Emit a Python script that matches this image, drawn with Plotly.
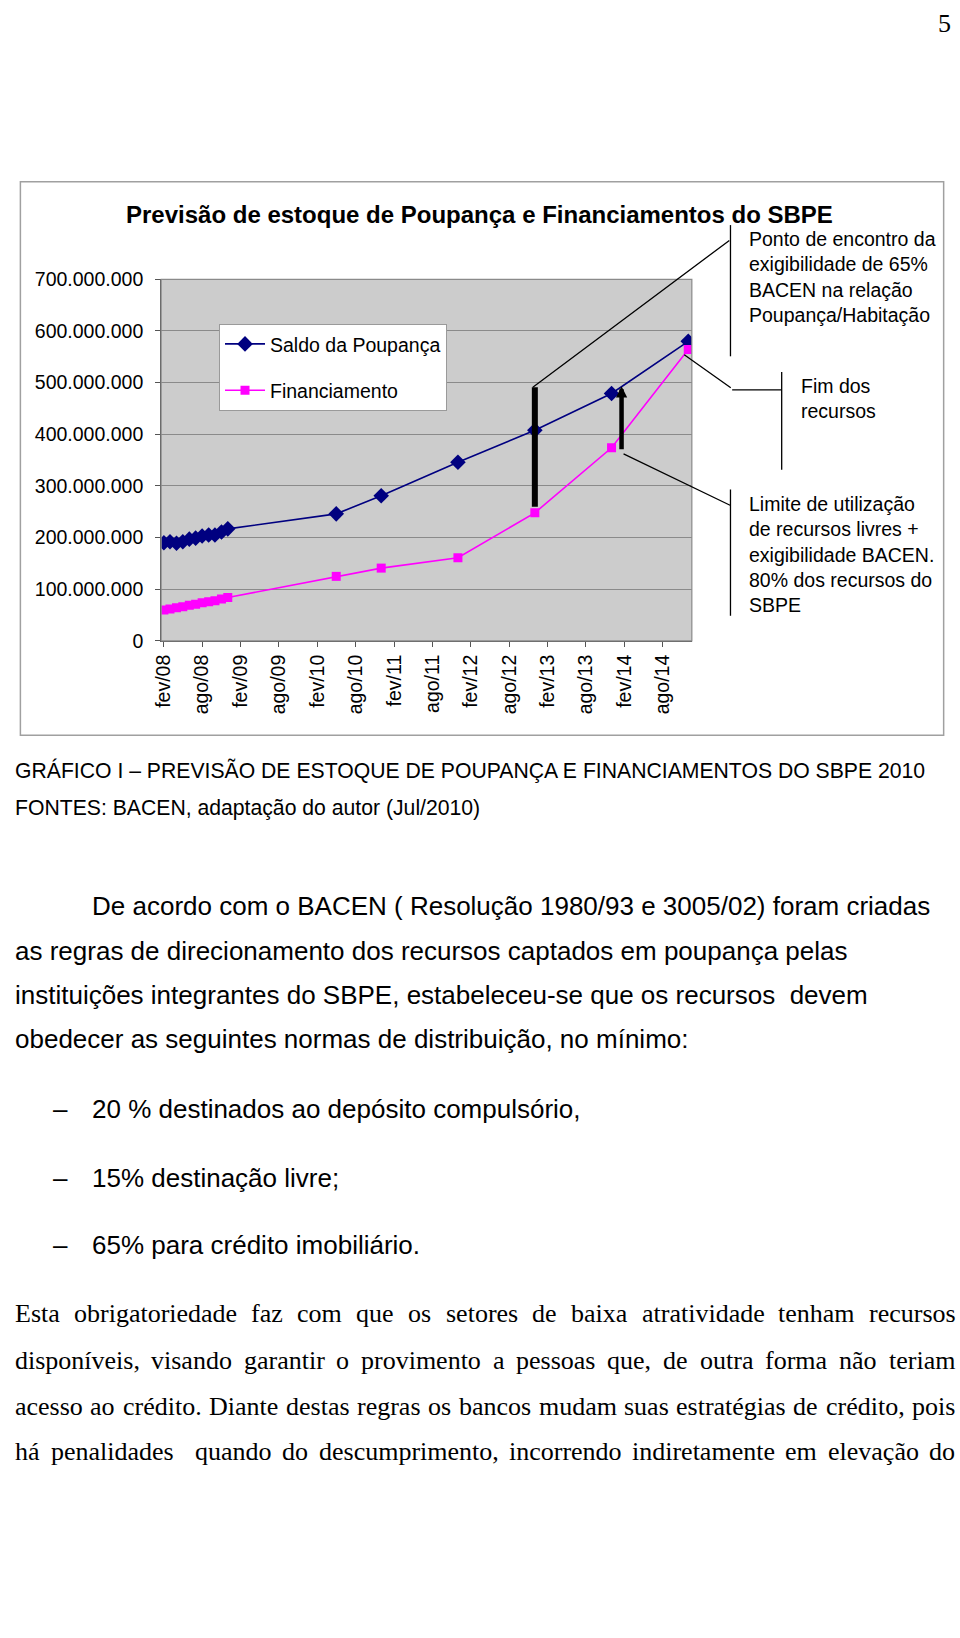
import plotly.graph_objects as go

# ---------------- data ----------------
dates = ["2008-02-01", "2008-03-01", "2008-04-01", "2008-05-01", "2008-06-01",
         "2008-07-01", "2008-08-01", "2008-09-01", "2008-10-01", "2008-11-01",
         "2008-12-01", "2010-05-01", "2010-12-01", "2011-12-01", "2012-12-01",
         "2013-12-01", "2014-12-01"]
saldo_poupanca = [190e6, 192e6, 189e6, 192e6, 197e6, 199e6, 203e6, 205e6, 205e6,
                  211e6, 217e6, 246e6, 281e6, 346e6, 408e6, 479e6, 580e6]
financiamento = [60e6, 62e6, 64e6, 66e6, 69e6, 71e6, 74e6, 76e6, 78e6,
                 81e6, 84e6, 125e6, 141e6, 161e6, 248e6, 374e6, 564e6]

tick_dates = ["2008-02-01", "2008-08-01", "2009-02-01", "2009-08-01", "2010-02-01",
              "2010-08-01", "2011-02-01", "2011-08-01", "2012-02-01", "2012-08-01",
              "2013-02-01", "2013-08-01", "2014-02-01", "2014-08-01"]
tick_labels = ["fev/08", "ago/08", "fev/09", "ago/09", "fev/10", "ago/10", "fev/11",
               "ago/11", "fev/12", "ago/12", "fev/13", "ago/13", "fev/14", "ago/14"]
y_ticks = [0, 100e6, 200e6, 300e6, 400e6, 500e6, 600e6, 700e6]
y_labels = ["0", "100.000.000", "200.000.000", "300.000.000", "400.000.000",
            "500.000.000", "600.000.000", "700.000.000"]

# callout anchors (data space)
bar_date = "2012-12-01"
bar_bottom, bar_top = 260e6, 491e6
arrow_date = "2013-12-01"
arrow_tip, arrow_base = 493e6, 362e6
fim_date = "2014-12-01"
fim_value = 554e6

W, H = 960, 1638
SANS = "Liberation Sans, Arial, sans-serif"
SERIF = "Liberation Serif, Times New Roman, serif"


def fx(x):
    return x / W


def fy(y):
    return 1 - y / H


fig = go.Figure()
fig.add_trace(go.Scatter(
    x=dates, y=saldo_poupanca, name="Saldo da Poupança", mode="lines+markers",
    line=dict(color="#000080", width=1.6),
    marker=dict(symbol="diamond", size=12, color="#000080"),
    legendgroup="a"))
fig.add_trace(go.Scatter(
    x=dates, y=financiamento, name="Financiamento", mode="lines+markers",
    line=dict(color="#FF00FF", width=1.6),
    marker=dict(symbol="square", size=9, color="#FF00FF"),
    legendgroup="b"))

anns = []
shapes = []


def text(t, x, y, size, family=SANS, xanchor="left", yanchor="middle", align="left"):
    anns.append(dict(text=t, x=fx(x), y=fy(y), xref="paper", yref="paper",
                     xanchor=xanchor, yanchor=yanchor, align=align, showarrow=False,
                     font=dict(size=size, family=family, color="black")))


def vline(x, y0, y1, w=1.3):
    shapes.append(dict(type="line", xref="paper", yref="paper", x0=fx(x), x1=fx(x),
                       y0=fy(y0), y1=fy(y1), line=dict(color="black", width=w)))


def hline(x0, x1, y, w=1.3):
    shapes.append(dict(type="line", xref="paper", yref="paper", x0=fx(x0), x1=fx(x1),
                       y0=fy(y), y1=fy(y), line=dict(color="black", width=w)))


# outer chart frame
shapes.append(dict(type="rect", xref="paper", yref="paper", x0=fx(11.5), x1=fx(943.5),
                   y0=fy(734), y1=fy(173), line=dict(color="#a0a0a0", width=1.5)))
# plot-area border
shapes.append(dict(type="rect", xref="x domain", yref="y domain", x0=0, x1=1, y0=0, y1=1,
                   line=dict(color="#8a8a8a", width=1.2), layer="above"))

# title
text("<b>Previsão de estoque de Poupança e Financiamentos do SBPE</b>", 116, 206, 24)

# thick bar
shapes.append(dict(type="line", xref="x", yref="y", x0=bar_date, x1=bar_date,
                   y0=bar_bottom, y1=bar_top, line=dict(color="black", width=6)))


def connector(xd, yd, ax, ay, xshift=0, width=1.3, head=0, size=1):
    anns.append(dict(text=" ", x=xd, y=yd, xref="x", yref="y", ax=ax, ay=ay,
                     axref="pixel", ayref="pixel", showarrow=True, arrowhead=head,
                     arrowsize=size, arrowwidth=width, arrowcolor="black", standoff=0,
                     xshift=xshift, font=dict(size=1)))


connector(bar_date, bar_top, 198, -148, xshift=-2)
connector(arrow_date, arrow_tip, 0, 65, xshift=10, width=4.5, head=2, size=0.5)
connector(arrow_date, arrow_base, 108, 52, xshift=12)
connector(fim_date, fim_value, 48, 34, xshift=-4)

# brackets
vline(728.3, 217, 350)
vline(780, 366, 465)
hline(730, 780, 384)
vline(728.3, 485, 613)

text("Ponto de encontro da<br>exigibilidade de 65%<br>BACEN na relação<br>Poupança/Habitação",
     745, 270, 19.5)
text("Fim dos<br>recursos", 797, 393, 19.5)
text("Limite de utilização<br>de recursos livres +<br>exigibilidade BACEN.<br>80% dos recursos do<br>SBPE",
     745, 551, 19.5)

# page number
text("5", 953, 13, 26, family=SERIF, xanchor="right")

# captions
text("GRÁFICO I – PREVISÃO DE ESTOQUE DE POUPANÇA E FINANCIAMENTOS DO SBPE 2010", 4, 770, 21.2)
text("FONTES: BACEN, adaptação do autor (Jul/2010)", 4, 807.5, 21.2)

# body text (Arial)
text("De acordo com o BACEN ( Resolução 1980/93 e 3005/02) foram criadas", 82, 906.7, 26)
text("as regras de direcionamento dos recursos captados em poupança pelas", 4, 952.7, 26)
text("instituições integrantes do SBPE, estabeleceu-se que os recursos \u00a0devem", 4, 997.6, 26)
text("obedecer as seguintes normas de distribuição, no mínimo:", 4, 1042.5, 26)
for t, y in [("20 % destinados ao depósito compulsório,", 1112.5),
             ("15% destinação livre;", 1182.5),
             ("65% para crédito imobiliário.", 1250.4)]:
    text("–", 42, y, 26)
    text(t, 82, y, 26)

# justified Times paragraph
TW = {' ': 250, ',': 250, '.': 250, '-': 333, ';': 278, ':': 278}
for c in "abdghnopquvxy":
    TW[c] = 500
for c in "ceaz":
    TW[c] = 444
for c in "fr":
    TW[c] = 333
for c in "ijlt":
    TW[c] = 278
TW.update({'m': 778, 's': 389, 'w': 722, 'k': 500,
           'á': 444, 'ã': 444, 'à': 444, 'â': 444, 'é': 444, 'ê': 444, 'ç': 444,
           'í': 278, 'ó': 500, 'õ': 500, 'ô': 500, 'ú': 500,
           'E': 611, 'D': 722})

para = ["Esta obrigatoriedade faz com que os setores de baixa atratividade tenham recursos",
        "disponíveis, visando garantir o provimento a pessoas que, de outra forma não teriam",
        "acesso ao crédito. Diante destas regras os bancos mudam suas estratégias de crédito, pois",
        "há penalidades  quando do descumprimento, incorrendo indiretamente em elevação do"]
para_y = [1320.4, 1367.4, 1414.4, 1460.4]
FS = 26
X0, X1 = 4, 952.7
for line, y in zip(para, para_y):
    tokens = line.split(" ")
    words = [w for w in tokens if w]
    nspaces = len(tokens) - 1
    ww = [sum(TW.get(c, 500) for c in w) * FS / 1000 for w in words]
    gap = (X1 - X0 - sum(ww)) / nspaces
    x = X0
    i = 0
    for tok in tokens:
        if tok:
            text(tok, x, y, FS, family=SERIF)
            x += ww[i]
            i += 1
        x += gap

fig.update_layout(
    width=W, height=H, margin=dict(l=0, r=0, t=0, b=0),
    paper_bgcolor="white", plot_bgcolor="#CCCCCC",
    font=dict(family=SANS, color="black", size=19.5),
    showlegend=True,
    legend=dict(x=fx(212), y=fy(317), xanchor="left", yanchor="top", bgcolor="white",
                bordercolor="#9a9a9a", borderwidth=1, font=dict(size=19.5, family=SANS),
                traceorder="grouped", tracegroupgap=18, itemwidth=40),
    xaxis=dict(type="date", domain=[fx(153.6), fx(689.3)],
               range=["2008-01-19", "2014-12-18"],
               tickvals=tick_dates, ticktext=tick_labels, tickangle=-90,
               ticks="outside", ticklen=5, tickcolor="#555", showline=True,
               linecolor="#555", linewidth=1, showgrid=False, zeroline=False,
               tickfont=dict(size=19.5, family=SANS, color="black")),
    yaxis=dict(domain=[fy(638.5), fy(272)], range=[0, 700e6],
               tickvals=y_ticks, ticktext=y_labels, ticks="outside", ticklen=5,
               ticklabelstandoff=8,
               tickcolor="#555", showline=True, linecolor="#555", linewidth=1,
               showgrid=True, gridcolor="#8a8a8a", gridwidth=1, zeroline=False,
               tickfont=dict(size=19.5, family=SANS, color="black")),
    annotations=anns, shapes=shapes,
)

fig.write_html("out.html", config={"displayModeBar": False},
               post_script="document.body.style.margin='0px';")
